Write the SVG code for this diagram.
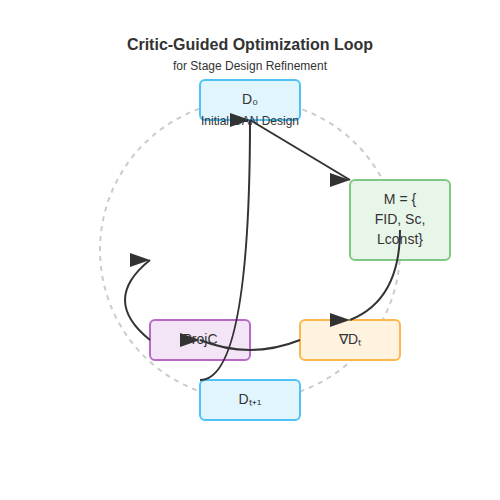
<svg xmlns="http://www.w3.org/2000/svg" width="500" height="500" viewBox="0 0 500 500">
<defs>
<marker id="arrow" markerWidth="10" markerHeight="7" refX="10" refY="3.5">
<polygon points="0 0, 10 3.5, 0 7" fill="#333"/>
</marker>
<style>
.title{font-family:"Liberation Sans",Arial,sans-serif;font-size:16px;font-weight:bold;fill:#333;text-anchor:middle}
.sub{font-family:"Liberation Sans",Arial,sans-serif;font-size:12px;fill:#333;text-anchor:middle}
.node rect{stroke-width:2}
.lbl{font-family:"Liberation Sans",Arial,sans-serif;font-size:14px;fill:#333;text-anchor:middle;dominant-baseline:middle}
.small{font-family:"Liberation Sans",Arial,sans-serif;font-size:12px;fill:#333;text-anchor:middle}
.conn path{fill:none;stroke:#333;stroke-width:2;marker-end:url(#arrow)}
.blue{fill:#e1f5fe;stroke:#4fc3f7}
.green{fill:#e8f5e9;stroke:#81c784}
.orange{fill:#fff3e0;stroke:#ffb74d}
.purple{fill:#f3e5f5;stroke:#ba68c8}
</style>
</defs>
<rect width="500" height="500" fill="#ffffff"/>
<text class="title" x="250" y="50">Critic-Guided Optimization Loop</text>
<text class="sub" x="250" y="70">for Stage Design Refinement</text>
<circle cx="250" cy="250" r="150" fill="none" stroke="#ccc" stroke-width="2" stroke-dasharray="5,5"/>
<g id="node-d0" class="node">
<rect class="blue" x="200" y="80" width="100" height="40" rx="5"/>
<text class="lbl" x="250" y="100">D₀</text>
<text class="small" x="250" y="125">Initial GAN Design</text>
</g>
<g id="node-metrics" class="node">
<rect class="green" x="350" y="180" width="100" height="80" rx="5"/>
<text class="lbl" x="400" y="200">M = {</text>
<text class="lbl" x="400" y="220">FID, Sc,</text>
<text class="lbl" x="400" y="240">Lconst}</text>
</g>
<g id="node-grad" class="node">
<rect class="orange" x="300" y="320" width="100" height="40" rx="5"/>
<text class="lbl" x="350" y="340">∇Dₜ</text>
</g>
<g id="node-proj" class="node">
<rect class="purple" x="150" y="320" width="100" height="40" rx="5"/>
<text class="lbl" x="200" y="340">ProjC</text>
</g>
<g id="node-dnext" class="node">
<rect class="blue" x="200" y="380" width="100" height="40" rx="5"/>
<text class="lbl" x="250" y="400">Dₜ₊₁</text>
</g>
<g id="connectors" class="conn">
<path d="M250,120 L350,180"/>
<path d="M400,230 Q400,300 350,320"/>
<path d="M300,340 Q250,360 200,340"/>
<path d="M150,340 Q100,300 150,260"/>
<path d="M200,380 Q250,380 250,120"/>
</g>
</svg>
